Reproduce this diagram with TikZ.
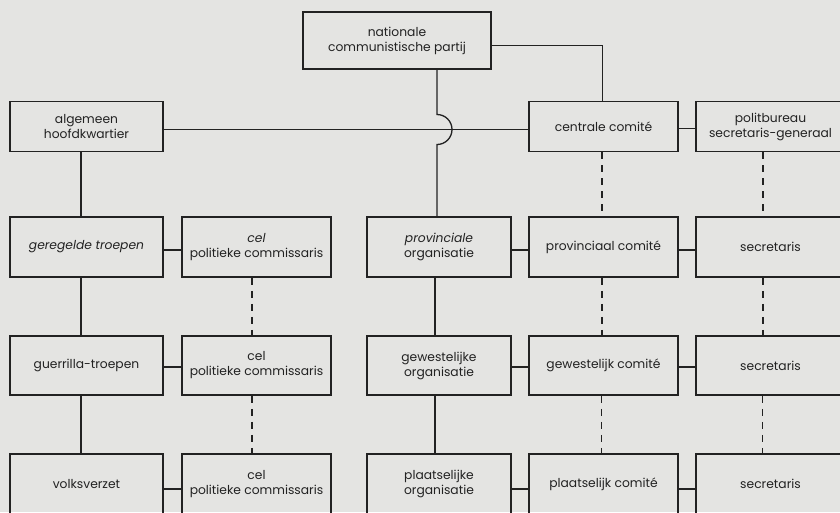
\documentclass[tikz,border=0pt]{standalone}
\usepackage{fontspec}
\setmainfont{Poppins}
\usetikzlibrary{calc}
\definecolor{paper}{HTML}{E4E4E2}
\definecolor{ink}{HTML}{222222}
\begin{document}
\begin{tikzpicture}[x=1pt,y=-1pt,
  box/.style={draw=ink, line width=1.8pt, text=ink, align=center,
    font=\fontsize{12.3}{15}\selectfont, inner sep=0pt},
  link/.style={draw=ink, line width=1.3pt},
  dlink/.style={link, dash pattern=on 7pt off 6pt}]
\fill[paper] (0,0) rectangle (840,512);
\useasboundingbox (0,0) rectangle (840,512);
\clip (0,0) rectangle (840,512);
% top
\node[box, minimum width=188, minimum height=57] (nat) at (397,40.5) {nationale\\communistische partij};
% row 1
\node[box, minimum width=153, minimum height=50] (alg) at (86.5,126.5) {algemeen\\hoofdkwartier};
\node[box, minimum width=149, minimum height=50] (cen) at (603.5,126.5) {centrale comité};
\node[box, minimum width=149, minimum height=50] (pol) at (770.5,126.5) {politbureau\\secretaris-generaal};
% row 2
\node[box, minimum width=153, minimum height=60] (ger) at (86.5,247) {\itshape geregelde troepen};
\node[box, minimum width=149, minimum height=60] (cela) at (256.5,247) {\itshape cel\\politieke commissaris};
\node[box, minimum width=144, minimum height=60] (prov) at (439,247) {\itshape provinciale\\organisatie};
\node[box, minimum width=149, minimum height=60] (provc) at (603.5,247) {provinciaal comité};
\node[box, minimum width=149, minimum height=60] (seca) at (770.5,247) {secretaris};
% row 3
\node[box, minimum width=153, minimum height=59] (gue) at (86.5,365.5) {guerrilla-troepen};
\node[box, minimum width=149, minimum height=59] (celb) at (256.5,365.5) {cel\\politieke commissaris};
\node[box, minimum width=144, minimum height=59] (gew) at (439,365.5) {gewestelijke\\organisatie};
\node[box, minimum width=149, minimum height=59] (gewc) at (603.5,365.5) {gewestelijk comité};
\node[box, minimum width=149, minimum height=59] (secb) at (770.5,365.5) {secretaris};
% row 4
\node[box, minimum width=153, minimum height=60] (vol) at (86.5,484) {volksverzet};
\node[box, minimum width=149, minimum height=60] (celc) at (256.5,484) {cel\\politieke commissaris};
\node[box, minimum width=144, minimum height=60] (pla) at (439,484) {plaatselijke\\organisatie};
\node[box, minimum width=149, minimum height=60] (plac) at (603.5,484) {plaatselijk comité};
\node[box, minimum width=149, minimum height=60] (secc) at (770.5,484) {secretaris};
% connectors: top
\draw[link] ([yshift=-5pt]nat.east) -| ([xshift=-1pt]cen.north);
\draw[link] ([yshift=-3pt]alg.east) -- ([yshift=-3pt]cen.west);
\draw[link] ([yshift=-2pt]cen.east) -- ([yshift=-2pt]pol.west);
\coordinate (cx) at ([xshift=-2pt]prov.north);
\coordinate (hop) at ([yshift=-3pt]cx |- alg.east);
\draw[link] (nat.south -| cx) -- ($(hop)+(0,-15)$) arc[start angle=-90, end angle=90, radius=15] -- (cx);
\draw[dlink] ([xshift=-1.5pt]cen.south) -- ([xshift=-1.5pt]provc.north);
\draw[dlink] ([xshift=-7.5pt]pol.south) -- ([xshift=-7.5pt]seca.north);
% horizontal
\draw[link] ([yshift=-3pt]ger.east) -- ([yshift=-3pt]cela.west);
\draw[link] ([yshift=-3pt]prov.east) -- ([yshift=-3pt]provc.west);
\draw[link] ([yshift=-3pt]provc.east) -- ([yshift=-3pt]seca.west);
\draw[link] ([yshift=-1.5pt]gue.east) -- ([yshift=-1.5pt]celb.west);
\draw[link] ([yshift=-1.5pt]gew.east) -- ([yshift=-1.5pt]gewc.west);
\draw[link] ([yshift=-1.5pt]gewc.east) -- ([yshift=-1.5pt]secb.west);
\draw[link] ([yshift=-5pt]vol.east) -- ([yshift=-5pt]celc.west);
\draw[link] ([yshift=-5pt]pla.east) -- ([yshift=-5pt]plac.west);
\draw[link] ([yshift=-5pt]plac.east) -- ([yshift=-5pt]secc.west);
% vertical
\draw[link] ([xshift=-5.5pt]alg.south) -- ([xshift=-5.5pt]ger.north);
\draw[link] ([xshift=-5.5pt]ger.south) -- ([xshift=-5.5pt]gue.north);
\draw[link] ([xshift=-5.5pt]gue.south) -- ([xshift=-5.5pt]vol.north);
\draw[dlink] ([xshift=-4.5pt]cela.south) -- ([xshift=-4.5pt]celb.north);
\draw[dlink] ([xshift=-4.5pt]celb.south) -- ([xshift=-4.5pt]celc.north);
\draw[link] ([xshift=-4pt]prov.south) -- ([xshift=-4pt]gew.north);
\draw[link] ([xshift=-4pt]gew.south) -- ([xshift=-4pt]pla.north);
\draw[dlink] ([xshift=-1.5pt]provc.south) -- ([xshift=-1.5pt]gewc.north);
\draw[dlink] ([xshift=-2pt]gewc.south) -- ([xshift=-2pt]plac.north);
\draw[dlink] ([xshift=-7.5pt]seca.south) -- ([xshift=-7.5pt]secb.north);
\draw[dlink] ([xshift=-8pt]secb.south) -- ([xshift=-8pt]secc.north);
\end{tikzpicture}
\end{document}
